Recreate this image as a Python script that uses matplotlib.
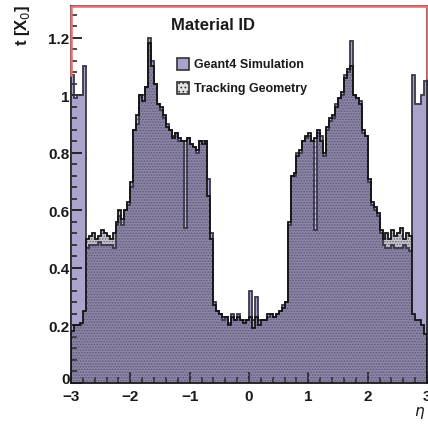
import numpy as np
import matplotlib
matplotlib.use("Agg")
import matplotlib.pyplot as plt
import matplotlib.transforms as mtransforms
from matplotlib.ticker import MultipleLocator, FuncFormatter

plt.rcParams["font.family"] = ["Liberation Sans", "DejaVu Sans"]
plt.rcParams["hatch.linewidth"] = 0.7

# eta bins: -3 .. 3 in steps of 0.05 (120 bins)
ETA_MIN, ETA_MAX, N_BINS = -3.0, 3.0, 120

# Geant4 simulation, t [X0] per bin
geant4 = [
    1.07, 0.99, 1.00, 1.00, 1.10,                                  # -3.00 .. -2.80
    0.47, 0.48, 0.48, 0.48, 0.49, 0.48, 0.48, 0.48, 0.48, 0.47,    # -2.75 .. -2.30
    0.55, 0.58, 0.55, 0.60, 0.62, 0.68,                            # -2.25 .. -2.00
    0.88, 0.90, 1.00, 1.00, 1.03, 1.20, 1.12, 1.04, 0.97, 0.95,    # -1.95 .. -1.50
    0.92, 0.90, 0.88, 0.86, 0.87, 0.84, 0.84, 0.54, 0.85, 0.83,    # -1.45 .. -1.00
    0.82, 0.80, 0.84, 0.84, 0.84, 0.71, 0.52, 0.28,                # -0.95 .. -0.60
    0.25, 0.24, 0.22, 0.23, 0.21, 0.24, 0.22, 0.24, 0.22, 0.22,    # -0.55 .. -0.10
    0.22, 0.32, 0.22, 0.30, 0.22, 0.22, 0.22, 0.23, 0.24, 0.23,    # -0.05 .. 0.40
    0.24, 0.25, 0.27, 0.28,                                        # 0.45 .. 0.60
    0.55, 0.72, 0.72, 0.80, 0.80, 0.84, 0.85, 0.86, 0.84, 0.53,    # 0.65 .. 1.10
    0.87, 0.86, 0.79, 0.88, 0.91, 0.92, 0.97, 0.99, 1.00, 1.07,    # 1.15 .. 1.60
    1.08, 1.19, 1.00, 0.99, 0.98, 0.87, 0.86, 0.70, 0.62, 0.60,    # 1.65 .. 2.10
    0.58, 0.52, 0.48, 0.47, 0.47, 0.48, 0.47, 0.47, 0.47, 0.48,    # 2.15 .. 2.60
    0.47, 0.46, 1.07, 0.97, 0.97, 1.00, 1.05,                      # 2.65 .. 2.95
]

# Tracking geometry, t [X0] per bin
tracking = [
    0.18, 0.20, 0.20, 0.21, 0.25,
    0.50, 0.51, 0.52, 0.50, 0.51, 0.53, 0.52, 0.51, 0.50, 0.52,
    0.56, 0.60, 0.57, 0.60, 0.63, 0.70,
    0.88, 0.93, 1.00, 0.98, 1.03, 1.18, 1.10, 1.04, 0.97, 0.96,
    0.93, 0.89, 0.88, 0.85, 0.87, 0.85, 0.84, 0.84, 0.85, 0.83,
    0.82, 0.81, 0.84, 0.83, 0.84, 0.65, 0.50, 0.27,
    0.25, 0.24, 0.23, 0.23, 0.20, 0.23, 0.22, 0.23, 0.22, 0.21,
    0.22, 0.23, 0.19, 0.23, 0.20, 0.22, 0.22, 0.24, 0.24, 0.23,
    0.24, 0.25, 0.26, 0.28,
    0.56, 0.72, 0.73, 0.79, 0.81, 0.84, 0.86, 0.87, 0.84, 0.85,
    0.88, 0.84, 0.80, 0.89, 0.92, 0.93, 0.96, 0.99, 1.01, 1.06,
    1.09, 1.10, 1.00, 0.99, 0.97, 0.88, 0.86, 0.71, 0.63, 0.61,
    0.59, 0.53, 0.50, 0.52, 0.50, 0.53, 0.51, 0.52, 0.54, 0.50,
    0.52, 0.51, 0.24, 0.22, 0.22, 0.20, 0.17,
]

Y_MAX = 1.31

edges = np.linspace(ETA_MIN, ETA_MAX, N_BINS + 1)

fig = plt.figure(figsize=(4.28, 4.27), dpi=100)
ax = fig.add_axes([71 / 428, 43 / 427, 356 / 428, 377 / 427])

ax.stairs(geant4, edges, fill=True, color="#aca3cc", zorder=1)
ax.stairs(tracking, edges, fill=True, facecolor=(0.22, 0.2, 0.3, 0.28),
          edgecolor="#5e5a6e", linewidth=0, hatch="......", zorder=2)
ax.stairs(geant4, edges, color="#3a3848", linewidth=1.3, zorder=3)
ax.stairs(tracking, edges, color="#151515", linewidth=1.3, zorder=4)

ax.set_xlim(ETA_MIN, ETA_MAX)
ax.set_ylim(0, Y_MAX)

# red histogram running off the top of the frame
ax.plot([-3, -3, 3, 3], [1.07, Y_MAX, Y_MAX, 1.06], color="#e07070",
        lw=1.8, clip_on=False, zorder=6)

ax.xaxis.set_major_locator(MultipleLocator(1))
ax.xaxis.set_minor_locator(MultipleLocator(0.2))
ax.yaxis.set_major_locator(MultipleLocator(0.2))
ax.yaxis.set_minor_locator(MultipleLocator(0.04))
ax.yaxis.set_major_formatter(FuncFormatter(lambda v, p: f"{v:g}"))
ax.tick_params(which="both", direction="in", top=False, right=False,
               labelsize=11, colors="#1a1a1a")
ax.tick_params(axis="y", pad=1)
ax.tick_params(axis="x", pad=4)
ax.tick_params(which="major", length=8, width=1.3)
ax.tick_params(which="minor", length=4, width=1.1)
for lab in ax.get_xticklabels() + ax.get_yticklabels():
    lab.set_fontweight("bold")
for s in ax.spines.values():
    s.set_color("#1a1a1a")
    s.set_linewidth(1.3)

# lift the y "0" label a little, as in the original, so it clears "-3"
fig.canvas.draw()
lift = mtransforms.ScaledTranslation(0, 5 / 100, fig.dpi_scale_trans)
for lab in ax.get_yticklabels():
    if lab.get_text() == "0":
        lab.set_transform(lab.get_transform() + lift)

fig.text(22 / 428, 1 - 5 / 427, r"t [X$_0$]", rotation=90, ha="center",
         va="top", fontsize=12, fontweight="bold", color="#1a1a1a")
fig.text(420 / 428, 1 - 413 / 427, r"$\eta$", ha="center", va="center",
         fontsize=11, color="#1a1a1a")

# legend
fig.text(171 / 428, 1 - 25 / 427, "Material ID", ha="left", va="center",
         fontsize=12, fontweight="bold", color="#1a1a1a")
entries = [("Geant4 Simulation", "#aca3cc", None, 65),
           ("Tracking Geometry", "#e2e2e2", "....", 89)]
for label, fc, hatch, py in entries:
    box = plt.Rectangle((177 / 428, 1 - (py + 6) / 427), 12 / 428, 12 / 427,
                        transform=fig.transFigure, facecolor=fc,
                        edgecolor="#333333", lw=1.2, hatch=hatch)
    fig.add_artist(box)
    fig.text(194 / 428, 1 - py / 427, label, ha="left", va="center",
             fontsize=9, fontweight="bold", color="#1a1a1a")

fig.savefig("out.png", dpi=100)
